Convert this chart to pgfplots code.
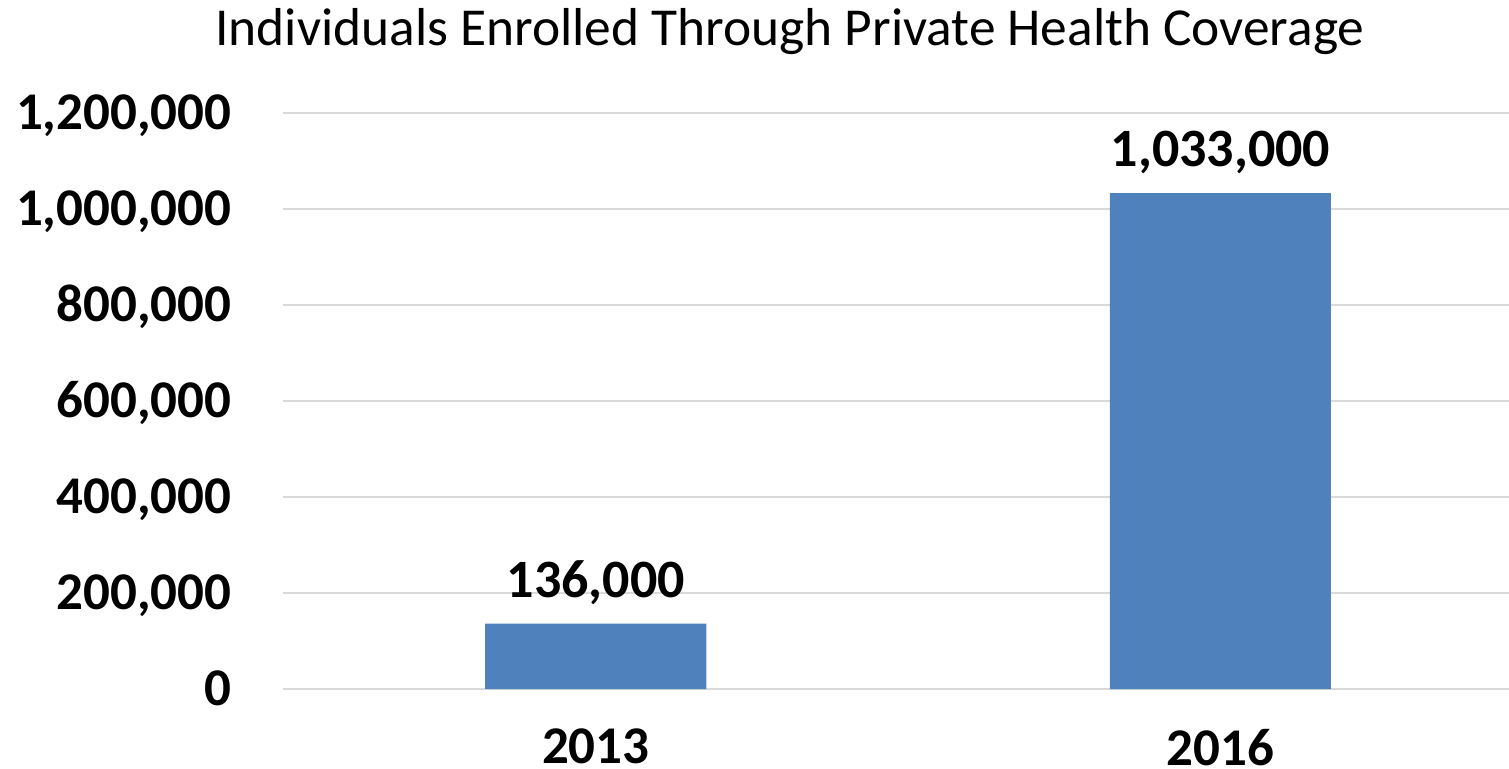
\documentclass[border=0pt]{standalone}
\usepackage{pgfplots}
\pgfplotsset{compat=1.18}
\usepackage{fontspec}
\setmainfont{Carlito}
\definecolor{barblue}{HTML}{4F81BD}
\definecolor{gridgray}{HTML}{D9D9D9}

\begin{document}
\begin{tikzpicture}
  \begin{axis}[
      scale only axis,
      width=612.75pt, height=288pt,
      at={(0,0)}, anchor=south west,
      ybar,
      bar width=0.354,
      xmin=-0.5, xmax=1.462,
      ymin=0, ymax=1200000,
      ytick={0,200000,400000,600000,800000,1000000,1200000},
      xtick={0,1},
      xticklabels={2013,2016},
      major tick length=0pt,
      axis line style={draw=none},
      ymajorgrids,
      grid style={gridgray, line width=1pt},
      scaled y ticks=false,
      /pgf/number format/.cd, fixed, 1000 sep={,}, assume math mode=true,
      /pgfplots/.cd,
      tick label style={font=\fontsize{26.5}{30}\selectfont\bfseries},
      yticklabel style={anchor=base east, xshift=-22.5pt, yshift=-8.4pt},
      xticklabel style={inner sep=0pt, yshift=-19.8pt},
      nodes near coords,
      nodes near coords style={font=\fontsize{27}{31}\selectfont\bfseries, anchor=base, yshift=13.2pt, inner sep=0pt},
    ]
    \addplot[fill=barblue, draw=none] coordinates {(0,136000) (1,1033000)};
  \end{axis}
  \node[font=\fontsize{26.7}{31}\selectfont, anchor=base] at (253.25pt,322pt)
    {Individuals Enrolled Through Private Health Coverage};
  \pgfresetboundingbox
  \path (-141.75pt,-39.5pt) rectangle (612.75pt,344.5pt);
\end{tikzpicture}
\end{document}
